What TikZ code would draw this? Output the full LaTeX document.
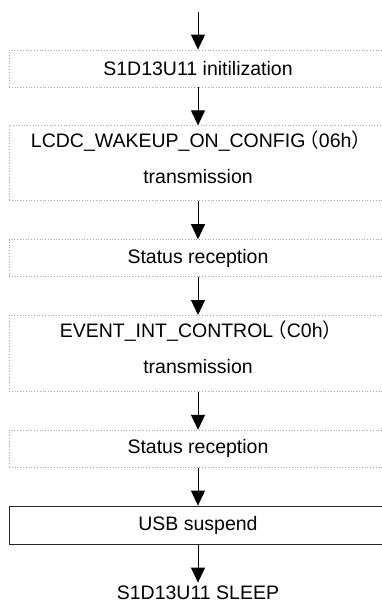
\documentclass[tikz,border=0pt]{standalone}
\usepackage{fontspec}
\setmainfont{Liberation Sans}
\newfontfamily\cjk{Noto Sans CJK JP}
\usetikzlibrary{positioning,arrows.meta}

\newcommand{\lpar}{\kern-6pt{\cjk （}}
\newcommand{\rpar}{{\cjk ）}\kern-6pt}

\tikzset{
  dotbox/.style={draw=gray!70, dotted, line width=0.8pt, minimum width=378pt,
    minimum height=37pt, inner sep=0pt, align=center},
  twoline/.style={text height=50pt, text depth=10pt},
  solidbox/.style={draw=black!85, line width=1pt, minimum width=378pt,
    minimum height=38pt, inner sep=0pt},
  flow/.style={-{Triangle[length=15pt,width=14pt]}, line width=1pt}
}

\begin{document}
\begin{tikzpicture}[x=1pt, y=-1pt, font=\fontsize{19.5}{36}\selectfont]
  \useasboundingbox (0,0) rectangle (382,604);

  \coordinate (start) at (198,12);
  \node [dotbox] (init) at (198,68.5) {S1D13U11 initilization};
  \node [dotbox, twoline, minimum height=75pt, below=38pt of init] (wakeup)
        {LCDC\_WAKEUP\_ON\_CONFIG\lpar 06h\rpar\\transmission};
  \node [dotbox, below=38pt of wakeup] (status1) {Status reception};
  \node [dotbox, twoline, minimum height=76pt, below=38pt of status1] (event)
        {EVENT\_INT\_CONTROL\lpar C0h\rpar\\transmission};
  \node [dotbox, below=38pt of event] (status2) {Status reception};
  \node [solidbox, below=38pt of status2] (suspend) {USB suspend};
  \node [inner sep=3pt, below=38pt of suspend] (sleep) {S1D13U11 SLEEP};

  \draw [flow] (start) -- (init);
  \draw [flow] (init) -- (wakeup);
  \draw [flow] (wakeup) -- (status1);
  \draw [flow] (status1) -- (event);
  \draw [flow] (event) -- (status2);
  \draw [flow] (status2) -- (suspend);
  \draw [flow] (suspend) -- (sleep);
\end{tikzpicture}
\end{document}
